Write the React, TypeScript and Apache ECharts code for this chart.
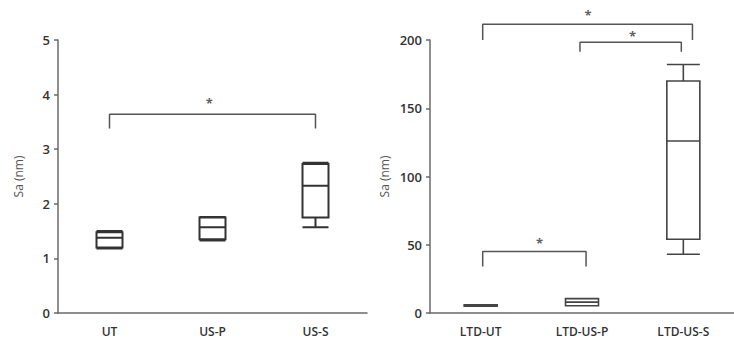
import React, { useEffect, useRef } from "react";
import * as echarts from "echarts";

const leftCategories = ["UT", "US-P", "US-S"];
const leftBoxes = [
  [1.18, 1.2, 1.38, 1.48, 1.5],
  [1.33, 1.35, 1.57, 1.75, 1.76],
  [1.57, 1.75, 2.33, 2.73, 2.75],
];
const rightCategories = ["LTD-UT", "LTD-US-P", "LTD-US-S"];
const rightBoxes = [
  [5, 5, 5.5, 6, 6],
  [5.3, 5.3, 8, 10.5, 10.5],
  [43, 54, 126, 170, 182],
];
// brackets (x in category-index units): [fromX, toX, barLevel, legEnd, starX, starLevel]
const leftBrackets = [[0, 2, 3.64, 3.38, 0.97, 3.85]];
const rightBrackets = [
  [0.02, 2.09, 211.5, 200, 1.06, 218],
  [0.98, 1.98, 198.3, 191.4, 1.5, 203],
  [0.02, 1.04, 45, 34, 0.58, 51.5],
];

const FONT = "'Open Sans', 'Liberation Sans', sans-serif";
const axisColor = "#6a6a6a";

function bracketSeries(brackets: number[][], axisIndex: number, yIndex: number) {
  const out: any[] = [];
  brackets.forEach((b) => {
    const [from, to, bar, leg] = b;
    out.push({
      type: "line",
      xAxisIndex: axisIndex,
      yAxisIndex: yIndex,
      symbol: "none",
      silent: true,
      clip: false,
      lineStyle: { color: "#555", width: 1.5 },
      data: [
        [from, leg],
        [from, bar],
        [to, bar],
        [to, leg],
      ],
    });
  });
  out.push({
    type: "scatter",
    xAxisIndex: axisIndex,
    yAxisIndex: yIndex,
    symbolSize: 0,
    silent: true,
    clip: false,
    data: brackets.map((b) => [b[4], b[5]]),
    label: {
      show: true,
      formatter: "*",
      position: "inside",
      color: "#333",
      fontSize: 13,
      fontWeight: "bold",
      fontFamily: FONT,
    },
  });
  return out;
}

export default function App() {
  const ref = useRef<HTMLDivElement>(null);
  useEffect(() => {
    const chart = echarts.init(ref.current!, null, { renderer: "svg" });
    const yAxisCommon = {
      type: "value",
      nameLocation: "middle",
      nameTextStyle: { color: "#555", fontSize: 12, fontFamily: FONT },
      axisLine: { show: true, onZero: false, lineStyle: { color: axisColor, width: 1.5 } },
      axisTick: { show: true, length: 4, lineStyle: { color: axisColor, width: 1.5 } },
      axisLabel: { color: "#333", fontSize: 13, fontFamily: FONT, fontWeight: 600, margin: 8 },
      splitLine: { show: false },
    };
    const xAxisCommon = {
      type: "category",
      boundaryGap: true,
      axisLine: { show: true, onZero: false, lineStyle: { color: axisColor, width: 1.5 } },
      axisTick: { show: false },
      axisLabel: { color: "#333", fontSize: 12, fontFamily: FONT, fontWeight: 600, margin: 12 },
    };
    const hiddenX = { type: "value", min: -0.5, max: 2.5, show: false };
    chart.setOption({
      animation: false,
      backgroundColor: "#fff",
      grid: [
        { left: 58, top: 40, width: 309, bottom: 28 },
        { left: 430, top: 40, width: 304, bottom: 28 },
      ],
      xAxis: [
        { ...xAxisCommon, gridIndex: 0, data: leftCategories },
        { ...xAxisCommon, gridIndex: 1, data: rightCategories },
        { ...hiddenX, gridIndex: 0 },
        { ...hiddenX, gridIndex: 1 },
      ],
      yAxis: [
        { ...yAxisCommon, gridIndex: 0, min: 0, max: 5, interval: 1, name: "Sa (nm)", nameGap: 34 },
        { ...yAxisCommon, gridIndex: 1, min: 0, max: 200, interval: 50, name: "Sa (nm)", nameGap: 40 },
      ],
      series: [
        {
          type: "boxplot",
          xAxisIndex: 0,
          yAxisIndex: 0,
          boxWidth: [26, 26],
          itemStyle: { color: "#fff", borderColor: "#333", borderWidth: 2 },
          data: leftBoxes,
        },
        {
          type: "boxplot",
          xAxisIndex: 1,
          yAxisIndex: 1,
          boxWidth: [33, 33],
          itemStyle: { color: "#fff", borderColor: "#444", borderWidth: 1.6 },
          data: rightBoxes,
        },
        ...bracketSeries(leftBrackets, 2, 0),
        ...bracketSeries(rightBrackets, 3, 1),
      ],
    });
    return () => chart.dispose();
  }, []);
  return (
    <div
      ref={ref}
      style={{ position: "fixed", left: 0, top: 0, width: 734, height: 341, background: "#fff" }}
    />
  );
}
